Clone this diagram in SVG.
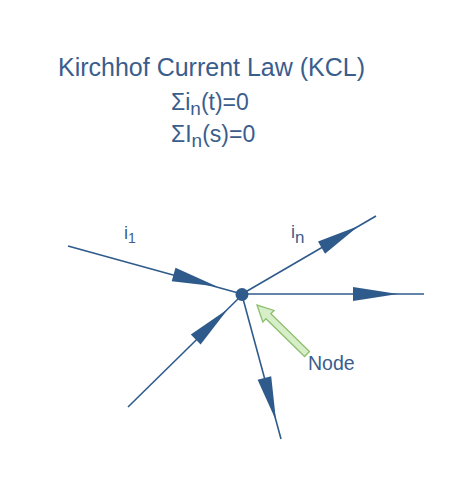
<svg xmlns="http://www.w3.org/2000/svg" width="474" height="492" viewBox="0 0 474 492">
<style>
.t{font-family:"Liberation Sans",Arial,sans-serif;fill:#3a5d8c}
.w{stroke:#2f5b8c;stroke-width:1.6;fill:none}
.ah{fill:#2f5b8c}
</style>
<rect width="474" height="492" fill="#fff"/>
<text class="t" x="58" y="76" font-size="25">Kirchhof Current Law (KCL)</text>
<text class="t" x="171" y="109.5" font-size="23">Σi<tspan font-size="19" dy="5">n</tspan><tspan dy="-5">(t)=0</tspan></text>
<text class="t" x="171" y="141.5" font-size="23">ΣI<tspan font-size="19" dy="5">n</tspan><tspan dy="-5">(s)=0</tspan></text>
<g id="connectors">
<line class="w" x1="68" y1="246" x2="242" y2="294"/>
<polygon class="ah" points="217,286.5 175.5,267.8 171.7,281.2"/>
<line class="w" x1="242" y1="294" x2="376" y2="216"/>
<polygon class="ah" points="358.6,226.1 325,253.7 318,241.6"/>
<line class="w" x1="242" y1="294" x2="424" y2="294"/>
<polygon class="ah" points="398,294 353,287 353,301"/>
<line class="w" x1="128" y1="407" x2="242" y2="295"/>
<polygon class="ah" points="228,309 200.6,344.4 190.8,334.4"/>
<line class="w" x1="242" y1="295" x2="281" y2="439"/>
<polygon class="ah" points="276,420.5 257.6,379.8 271.2,376.2"/>
</g>
<g id="node">
<circle cx="242" cy="294.5" r="6.5" fill="#2f5b8c"/>
</g>
<g id="node-pointer">
<path d="M0,-3.5 L54,-3.5 L54,-8 L70,0 L54,8 L54,3.5 L0,3.5 Z" transform="translate(307,354) rotate(224.4)" fill="#d6efc8" stroke="#8dbf6e" stroke-width="1.3"/>
<text class="t" x="308" y="370" font-size="19.5">Node</text>
</g>
<g id="labels">
<text class="t" x="124" y="239" font-size="18">i<tspan font-size="14" dy="4">1</tspan></text>
<text class="t" x="291" y="238" font-size="18">i<tspan font-size="17" dy="5">n</tspan></text>
</g>
</svg>
